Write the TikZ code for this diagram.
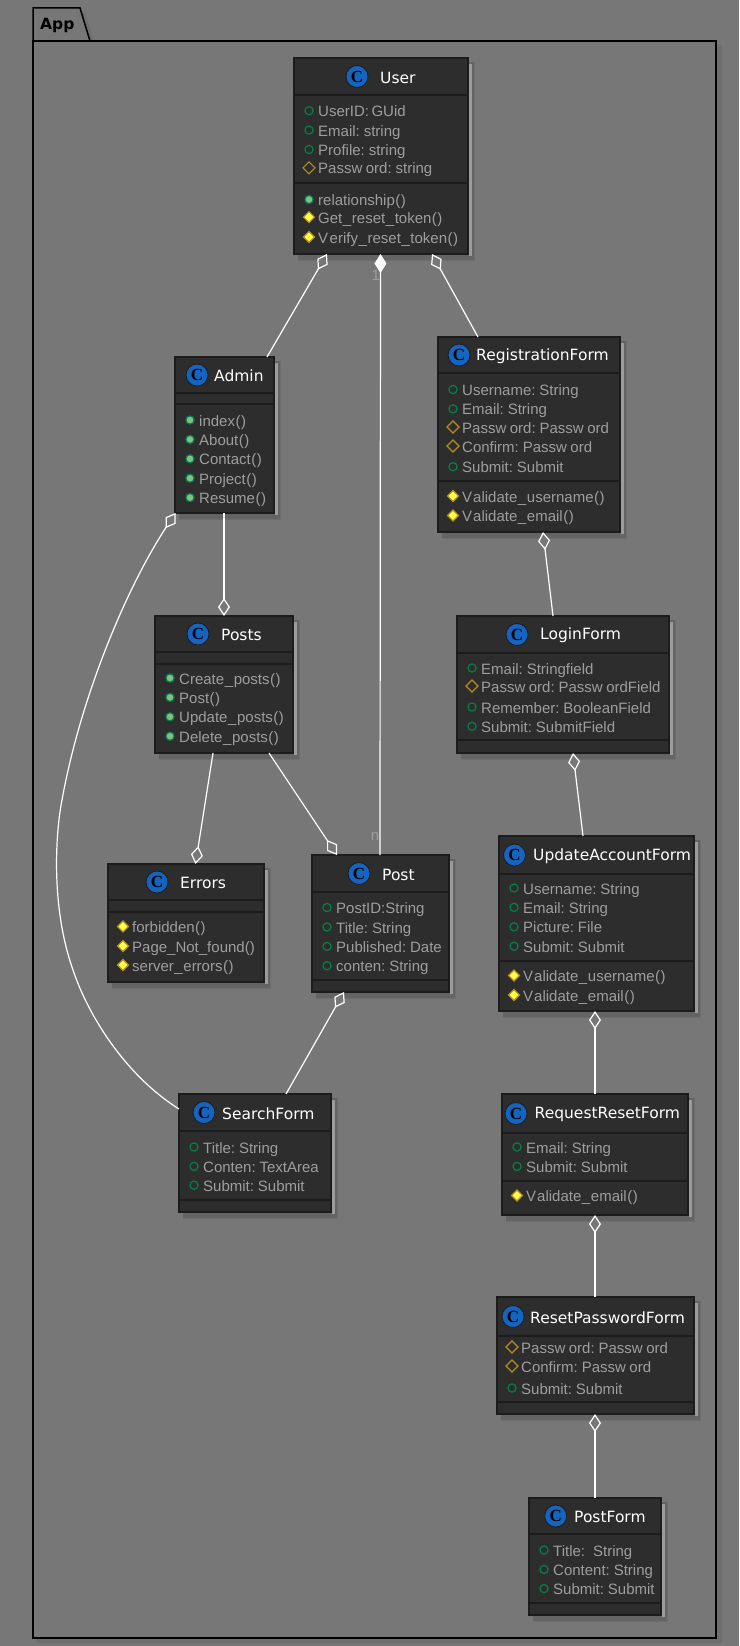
\documentclass[tikz,border=0pt]{standalone}
\usepackage{fontspec}
\setmainfont[WordSpace=0.6]{Liberation Sans}
\newfontfamily\titlefont{DejaVu Sans}
\newfontfamily\iconfont{Liberation Serif}
\usetikzlibrary{arrows.meta}
\definecolor{bggray}{HTML}{777777}
\definecolor{boxfill}{HTML}{2D2D2D}
\definecolor{boxline}{HTML}{1C1C1C}
\definecolor{memtext}{HTML}{9E9E9E}
\definecolor{pubgreen}{HTML}{038048}
\definecolor{pubfill}{HTML}{84BE84}
\definecolor{protgold}{HTML}{B38D22}
\definecolor{protfill}{HTML}{FFFF44}
\definecolor{iconblue}{HTML}{1565C0}
\definecolor{shadowdark}{HTML}{646464}
\definecolor{shadowsoft}{HTML}{6E6E6E}
\definecolor{shadowlight}{HTML}{9C9C9C}
\tikzset{
  classbox/.style={draw=boxline,line width=1.5pt,fill=boxfill,inner sep=0pt,outer sep=0pt,rectangle},
  sepline/.style={draw=boxline,line width=1.3pt},
  titletext/.style={anchor=west,text=white,inner sep=0pt,font=\titlefont\fontsize{15.5}{18}\selectfont},
  memtext/.style={anchor=base west,text=memtext,inner sep=0pt,font=\fontsize{15}{18}\selectfont},
  classicon/.style={circle,draw=boxline,line width=.8pt,fill=iconblue,minimum size=22pt,inner sep=0pt,text=black,font=\iconfont\bfseries\fontsize{17}{18}\selectfont},
  aggr/.style={draw=white,line width=1.2pt,{Diamond[fill=bggray,length=18pt,width=12pt]}-},
  comp/.style={draw=white,line width=1.2pt,{Diamond[fill=white,length=19pt,width=12pt]}-},
  multilabel/.style={text=memtext,inner sep=0pt,font=\fontsize{15}{16}\selectfont},
  pkgline/.style={draw=black,line width=1.5pt}
}
\newcount\memno
\def\wrd{Passw\kern3.5pt ord}
\def\prn{\kern.5pt(\kern.5pt)}
\def\us{\kern.6pt\_\kern.6pt}
% name, x1,y1,x2,y2, sep1, sep2, icon x, title
\newcommand{\cls}[9]{%
  \def\curname{#1}\def\curx{#2}%
  \fill[shadowsoft] (#2+4,#3+4) rectangle (#4+7,#5+7);
  \fill[shadowdark] (#2+4,#3+4) rectangle (#4+5.5,#5+5.5);
  \fill[shadowlight] (#4+1,#3+6) rectangle (#4+4,#5+2);
  \node[classbox,minimum width=#4pt-#2pt,minimum height=#5pt-#3pt] (#1) at ({(#2+#4)/2},{(#3+#5)/2}) {};
  \draw[sepline] (#1.north west |- 0,#6) -- (#1.north east |- 0,#6);
  \draw[sepline] (#1.north west |- 0,#7) -- (#1.north east |- 0,#7);
  \node[classicon] (#1icon) at (#8,{(#3+#6)/2}) {C};
  \node[titletext] (#1title) at (\curtitlex,{(#3+#6)/2+1}) {#9};%
}
\newcommand{\pubf}[2]{\draw[pubgreen,line width=1.2pt] (\curx+15,#1) circle (4.1pt); \memtxt{#1}{#2}}
\newcommand{\pubm}[2]{\draw[pubgreen,fill=pubfill,line width=1.2pt] (\curx+15,#1) circle (4.1pt); \memtxt{#1}{#2}}
\newcommand{\protf}[2]{\draw[protgold,line width=1.1pt] (\curx+15,#1-6) -- (\curx+21,#1) -- (\curx+15,#1+6) -- (\curx+9,#1) -- cycle; \memtxt{#1}{#2}}
\newcommand{\protm}[2]{\draw[protgold,fill=protfill,line width=1.1pt] (\curx+15,#1-5.5) -- (\curx+20.5,#1) -- (\curx+15,#1+5.5) -- (\curx+9.5,#1) -- cycle; \memtxt{#1}{#2}}
\newcommand{\memtxt}[2]{\global\advance\memno by 1 \node[memtext] (mem\the\memno) at (\curx+24,#1+6) {#2};}
\begin{document}
\begin{tikzpicture}[x=1pt,y=-1pt]
\useasboundingbox (0,0) rectangle (739,1646);
\fill[bggray] (0,0) rectangle (739,1646);
% package
\fill[shadowsoft] (37,45) rectangle (722,1643);
\fill[shadowsoft] (80,12) -- (85,12) -- (95,45) -- (86,45) -- cycle;
\fill[bggray] (33,41) rectangle (716,1638);
\draw[pkgline,fill=bggray] (33,41) -- (33,8) -- (80,8) -- (90,41) -- cycle;
\node[draw=none,inner sep=0pt,anchor=west,text=black,font=\titlefont\bfseries\fontsize{15.5}{18}\selectfont] (pkgname) at (40,25) {App};
\node[pkgline,rectangle,inner sep=0pt,outer sep=0pt,minimum width=683pt,minimum height=1597pt] (pkg) at (374.5,839.5) {};

\def\curtitlex{380}
\cls{user}{294}{58}{468}{254}{95}{183}{357}{User}
\pubf{110.7}{UserID: GUid}
\pubf{130.1}{Email: string}
\pubf{149.5}{Profile: string}
\protf{167.8}{\wrd: string}
\pubm{199.5}{relationship\prn}
\protm{217.2}{Get\us reset\us token\prn}
\protm{237}{V\kern1.5pt erify\us reset\us token\prn}

\def\curtitlex{214}
\cls{admin}{175}{357}{274}{513}{393}{404}{197}{Admin}
\pubm{420}{index\prn}
\pubm{439.4}{About\prn}
\pubm{458.8}{Contact\prn}
\pubm{478.2}{Project\prn}
\pubm{497.6}{Resume\prn}

\def\curtitlex{476}
\cls{reg}{438}{337}{620}{532}{373}{481}{459}{RegistrationForm}
\pubf{389.5}{Username: String}
\pubf{408.9}{Email: String}
\protf{427}{\wrd: \wrd}
\protf{446}{Confirm: \wrd}
\pubf{466.7}{Submit: Submit}
\protm{496}{V\kern1pt alidate\us username\prn}
\protm{515.5}{V\kern1pt alidate\us email\prn}

\def\curtitlex{221}
\cls{posts}{155}{616}{293}{753}{652}{664}{198}{Posts}
\pubm{678}{Create\us posts\prn}
\pubm{697.4}{Post\prn}
\pubm{716.8}{Update\us posts\prn}
\pubm{736.2}{Delete\us posts\prn}

\def\curtitlex{540}
\cls{login}{457}{616}{669}{753}{653}{740}{517}{LoginForm}
\pubf{668}{Email: Stringfield}
\protf{686}{\wrd: \wrd Field}
\pubf{707}{Remember: BooleanField}
\pubf{726.4}{Submit: SubmitField}

\def\curtitlex{180}
\cls{errors}{108}{864}{264}{982}{900}{912}{157}{Errors}
\protm{926.5}{forbidden\prn}
\protm{946}{Page\_Not\_found()}
\protm{965}{server\us errors\prn}

\def\curtitlex{382}
\cls{post}{312}{855}{449}{992}{892}{980}{359}{Post}
\pubf{907.5}{PostID:String}
\pubf{927}{Title: String}
\pubf{946.4}{Published: Date}
\pubf{965.8}{conten: String}

\def\curtitlex{533}
\cls{update}{499}{836}{694}{1011}{874}{961}{514.5}{UpdateAccountForm}
\pubf{888}{Username: String}
\pubf{907.4}{Email: String}
\pubf{926.8}{Picture: File}
\pubf{946.2}{Submit: Submit}
\protm{975.5}{V\kern1pt alidate\us username\prn}
\protm{995}{V\kern1pt alidate\us email\prn}

\def\curtitlex{222}
\cls{search}{179}{1094}{331}{1212}{1131}{1200}{204}{SearchForm}
\pubf{1147}{Title: String}
\pubf{1166.4}{Conten: TextArea}
\pubf{1185.2}{Submit: Submit}

\def\curtitlex{534.5}
\cls{request}{502}{1094}{688}{1215}{1133}{1181}{516}{RequestResetForm}
\pubf{1147}{Email: String}
\pubf{1166.4}{Submit: Submit}
\protm{1195.5}{V\kern1pt alidate\us email\prn}

\def\curtitlex{530}
\cls{reset}{497}{1297}{694}{1414}{1336}{1402}{513}{ResetPasswordForm}
\protf{1347}{\wrd: \wrd}
\protf{1366}{Confirm: \wrd}
\pubf{1388}{Submit: Submit}

\def\curtitlex{574}
\cls{postform}{529}{1498}{661}{1615}{1534}{1603}{555.7}{PostForm}
\pubf{1550}{Title:\ \ \kern3pt String}
\pubf{1569.4}{Content: String}
\pubf{1588.6}{Submit: Submit}

% connectors
\draw[aggr] ([xshift=33pt]user.south west) -- ([xshift=92pt]admin.north west);
\draw[comp] ([xshift=86.5pt]user.south west) -- ([xshift=68pt]post.north west);
\draw[aggr] ([xshift=138pt]user.south west) -- ([xshift=40pt]reg.north west);
\draw[aggr] ([xshift=69pt]posts.north west) -- ([xshift=49pt]admin.south west);
\draw[aggr] ([xshift=.5pt]admin.south west) .. controls (125,590) and (80,700) .. (62,800) .. controls (56,830) and (50,905) .. (73,970) .. controls (88,1015) and (125,1075) .. ([yshift=-15pt]search.north west);
\draw[aggr] ([xshift=105pt]reg.south west) -- ([xshift=96pt]login.north west);
\draw[aggr] ([xshift=116pt]login.south west) -- ([xshift=84pt]update.north west);
\draw[aggr] ([xshift=96pt]update.south west) -- ([xshift=93pt]request.north west);
\draw[aggr] ([xshift=93pt]request.south west) -- ([xshift=98pt]reset.north west);
\draw[aggr] ([xshift=98pt]reset.south west) -- ([xshift=66pt]postform.north west);
\draw[aggr] ([xshift=87.5pt]errors.north west) -- ([xshift=58pt]posts.south west);
\draw[aggr] ([xshift=25pt]post.north west) -- ([xshift=114pt]posts.south west);
\draw[aggr] ([xshift=32pt]post.south west) -- ([xshift=107pt]search.north west);
\node[multilabel] (one) at (375.7,275) {1};
\node[multilabel] (enn) at (375,836) {n};
\end{tikzpicture}
\end{document}
